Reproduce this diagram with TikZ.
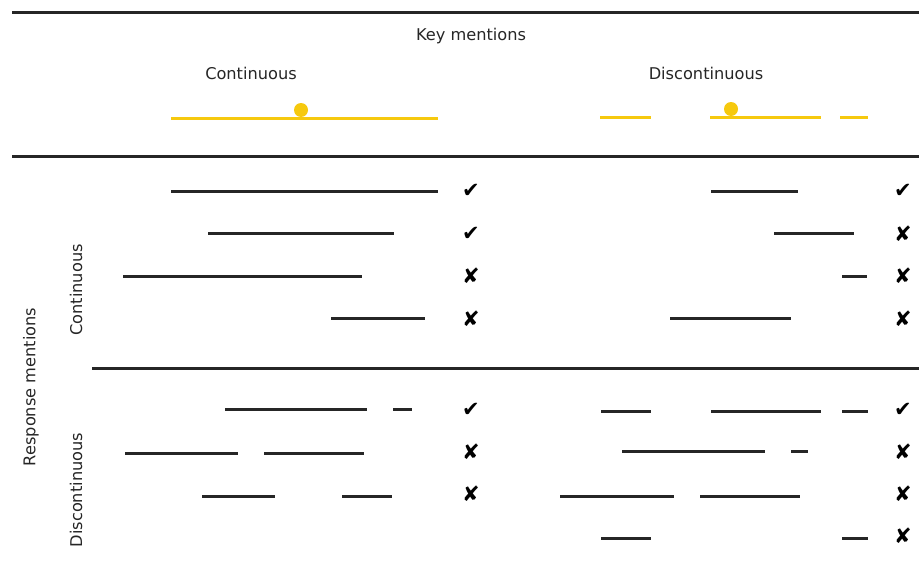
\documentclass[tikz,border=0pt]{standalone}
\usepackage{fontspec}
\setmainfont{DejaVu Sans}
\begin{document}
\begin{tikzpicture}[x=1pt,y=-1pt,
  seg/.style={line width=3pt,draw=black!85},
  keyseg/.style={line width=3pt,draw=keyyellow},
  sep/.style={line width=3pt,draw=black!85},
  lbl/.style={font=\fontsize{16.2}{19}\selectfont,text=black!85,inner sep=0pt},
  verdict/.style={font=\fontsize{21}{24}\selectfont,inner sep=0pt}]
\definecolor{keyyellow}{HTML}{F6C90E}
\useasboundingbox (0,0) rectangle (919,562);
% separators
\draw[sep] (12,12.5) -- (919,12.5);
\draw[sep] (12,156.5) -- (919,156.5);
\draw[sep] (92,368.5) -- (919,368.5);
% headers
\node[lbl] (km) at (471,36) {Key mentions};
\node[lbl] (kc) at (251,73) {Continuous};
\node[lbl] (kd) at (706,73) {Discontinuous};
\node[lbl,rotate=90] (rm) at (31,387) {Response mentions};
\node[lbl,rotate=90] (rc) at (76,290) {Continuous};
\node[lbl,rotate=90] (rd) at (76,490) {Discontinuous};
% key mentions
\draw[keyseg] (171,118) -- (438,118);
\fill[keyyellow] (301,110) circle (7);
\draw[keyseg] (600,117) -- (651,117);
\draw[keyseg] (710,117) -- (821,117);
\draw[keyseg] (840,117) -- (868,117);
\fill[keyyellow] (731,109) circle (7);
% continuous responses
\draw[seg] (171,191) -- (438,191);
\draw[seg] (208,233) -- (394,233);
\draw[seg] (123,276) -- (362,276);
\draw[seg] (331,318) -- (425,318);
\draw[seg] (711,191) -- (798,191);
\draw[seg] (774,233) -- (854,233);
\draw[seg] (842,276) -- (867,276);
\draw[seg] (670,318) -- (791,318);
% discontinuous responses
\draw[seg] (225,409) -- (367,409);
\draw[seg] (393,409) -- (412,409);
\draw[seg] (125,453) -- (238,453);
\draw[seg] (264,453) -- (364,453);
\draw[seg] (202,496) -- (275,496);
\draw[seg] (342,496) -- (392,496);
\draw[seg] (601,411) -- (651,411);
\draw[seg] (711,411) -- (821,411);
\draw[seg] (842,411) -- (868,411);
\draw[seg] (622,451) -- (765,451);
\draw[seg] (791,451) -- (808,451);
\draw[seg] (560,496) -- (674,496);
\draw[seg] (700,496) -- (800,496);
\draw[seg] (601,538) -- (651,538);
\draw[seg] (842,538) -- (868,538);
% marks
\node[verdict] (m1) at (471,191) {✔};
\node[verdict] (m2) at (471,234) {✔};
\node[verdict] (m3) at (471,276) {✘};
\node[verdict] (m4) at (471,319) {✘};
\node[verdict] (m5) at (471,410) {✔};
\node[verdict] (m6) at (471,452) {✘};
\node[verdict] (m7) at (471,494) {✘};
\node[verdict] (n1) at (903,191) {✔};
\node[verdict] (n2) at (903,234) {✘};
\node[verdict] (n3) at (903,276) {✘};
\node[verdict] (n4) at (903,319) {✘};
\node[verdict] (n5) at (903,410) {✔};
\node[verdict] (n6) at (903,452) {✘};
\node[verdict] (n7) at (903,494) {✘};
\node[verdict] (n8) at (903,536) {✘};
\end{tikzpicture}
\end{document}
